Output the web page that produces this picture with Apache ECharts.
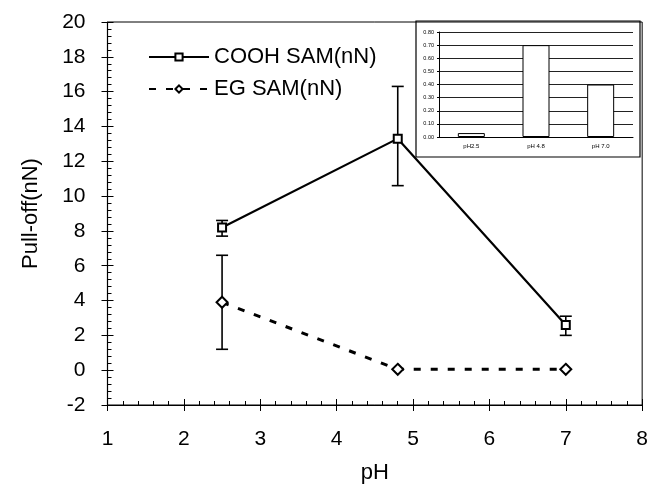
<!DOCTYPE html>
<html>
<head>
<meta charset="utf-8">
<script src="https://cdn.jsdelivr.net/npm/echarts@6/dist/echarts.min.js"></script>
<style>
  html, body { margin: 0; padding: 0; background: #fff; }
  #chart { width: 651px; height: 491px; }
</style>
</head>
<body>
<div id="chart"></div>
<script>
// main plot: pull-off force vs pH
var phValues = [2.5, 4.8, 7]
var coohMean = [8.2, 13.3, 2.6]
var coohLow = [7.7, 10.6, 2.0]
var coohHigh = [8.6, 16.3, 3.1]
var egMean = [3.9, 0.05, 0.05]
var egLow = [1.2, null, null]
var egHigh = [6.6, null, null]

// inset bar chart
var insetCats = ['pH2.5', 'pH 4.8', 'pH 7.0']
var insetValues = [0.03, 0.70, 0.40]

var font = 'Liberation Sans, Arial, sans-serif'

function pairs(xs, ys) {
  return xs.map(function (x, i) { return [x, ys[i]] })
}

function errData(xs, lo, hi) {
  var out = []
  xs.forEach(function (x, i) {
    if (lo[i] != null) out.push([x, lo[i], hi[i]])
  })
  return out
}

function renderErr(params, api) {
  var x = api.value(0)
  var lo = api.coord([x, api.value(1)])
  var hi = api.coord([x, api.value(2)])
  var cap = 6
  var style = { stroke: '#000', lineWidth: 1.6 }
  return {
    type: 'group',
    children: [
      { type: 'line', shape: { x1: lo[0], y1: lo[1], x2: hi[0], y2: hi[1] }, style: style },
      { type: 'line', shape: { x1: lo[0] - cap, y1: lo[1], x2: lo[0] + cap, y2: lo[1] }, style: style },
      { type: 'line', shape: { x1: hi[0] - cap, y1: hi[1], x2: hi[0] + cap, y2: hi[1] }, style: style }
    ]
  }
}

var chart = echarts.init(document.getElementById('chart'))

var axisLine = { onZero: false, lineStyle: { color: '#000', width: 1.2 } }

chart.setOption({
  animation: false,
  backgroundColor: '#fff',
  textStyle: { fontFamily: font },
  graphic: [{
    type: 'rect',
    z: -10,
    shape: { x: 416, y: 21, width: 224, height: 136 },
    style: { fill: '#fff', stroke: '#000', lineWidth: 1.2 }
  }],
  legend: {
    orient: 'vertical',
    left: 143,
    top: 41,
    itemWidth: 60,
    itemHeight: 9,
    itemGap: 10,
    textStyle: { fontSize: 22, color: '#000', fontFamily: font },
    data: ['COOH SAM(nN)', 'EG SAM(nN)']
  },
  grid: [
    { left: 107.5, right: 8, top: 22, bottom: 86, show: true, borderColor: '#000', borderWidth: 1 },
    { left: 439, top: 32, width: 194, height: 105 }
  ],
  xAxis: [
    {
      gridIndex: 0, type: 'value', min: 1, max: 8, interval: 1,
      name: 'pH', nameLocation: 'middle', nameGap: 57,
      nameTextStyle: { fontSize: 22, color: '#000', fontFamily: font },
      axisLine: axisLine,
      axisTick: { inside: true, length: 6, lineStyle: { color: '#000' } },
      minorTick: { show: true, splitNumber: 5, length: 4, lineStyle: { color: '#000' } },
      axisLabel: { fontSize: 21, color: '#000', margin: 24 },
      splitLine: { show: false }
    },
    {
      gridIndex: 0, type: 'value', min: 1, max: 8, interval: 1, position: 'bottom',
      axisLine: { show: false, onZero: false },
      axisTick: { inside: false, length: 6, lineStyle: { color: '#000' } },
      axisLabel: { show: false },
      splitLine: { show: false }
    },
    {
      gridIndex: 1, type: 'category', data: insetCats,
      axisLine: { lineStyle: { color: '#000' } },
      axisTick: { show: false },
      axisLabel: { fontSize: 6, color: '#000', margin: 6 }
    }
  ],
  yAxis: [
    {
      gridIndex: 0, type: 'value', min: -2, max: 20, interval: 2,
      name: 'Pull-off(nN)', nameLocation: 'middle', nameGap: 66,
      nameTextStyle: { fontSize: 22, color: '#000', fontFamily: font },
      axisLine: axisLine,
      axisTick: { inside: true, length: 6, lineStyle: { color: '#000' } },
      minorTick: { show: true, splitNumber: 5, length: 4, lineStyle: { color: '#000' } },
      axisLabel: { fontSize: 21, color: '#000', margin: 22 },
      splitLine: { show: false }
    },
    {
      gridIndex: 0, type: 'value', min: -2, max: 20, interval: 2, position: 'left',
      axisLine: { show: false, onZero: false },
      axisTick: { inside: false, length: 6, lineStyle: { color: '#000' } },
      axisLabel: { show: false },
      splitLine: { show: false }
    },
    {
      gridIndex: 1, type: 'value', min: 0, max: 0.8, interval: 0.1,
      axisLine: { show: true, lineStyle: { color: '#000' } },
      axisTick: { show: true, length: 2, lineStyle: { color: '#000' } },
      axisLabel: { fontSize: 5.5, color: '#000', margin: 5, formatter: function (v) { return v.toFixed(2) } },
      splitLine: { lineStyle: { color: '#222', width: 1 } }
    }
  ],
  series: [
    {
      type: 'custom', xAxisIndex: 0, yAxisIndex: 0, z: 1,
      renderItem: renderErr,
      data: errData(phValues, coohLow, coohHigh)
    },
    {
      type: 'custom', xAxisIndex: 0, yAxisIndex: 0, z: 1,
      renderItem: renderErr,
      data: errData(phValues, egLow, egHigh)
    },
    {
      name: 'COOH SAM(nN)', type: 'line', xAxisIndex: 0, yAxisIndex: 0, z: 3,
      data: pairs(phValues, coohMean),
      symbol: 'emptyRect', symbolSize: 8,
      itemStyle: { color: '#000', borderWidth: 1.4 },
      lineStyle: { color: '#000', width: 2.2 }
    },
    {
      name: 'EG SAM(nN)', type: 'line', xAxisIndex: 0, yAxisIndex: 0, z: 3,
      data: pairs(phValues, egMean),
      symbol: 'emptyDiamond', symbolSize: 11,
      itemStyle: { color: '#000', borderWidth: 1.4 },
      lineStyle: { color: '#000', width: 3, type: [7, 10] }
    },
    {
      type: 'bar', xAxisIndex: 2, yAxisIndex: 2, z: 3,
      data: insetValues, barWidth: 27,
      itemStyle: { color: '#fff', borderColor: '#000', borderWidth: 1 }
    }
  ]
})
</script>
</body>
</html>
